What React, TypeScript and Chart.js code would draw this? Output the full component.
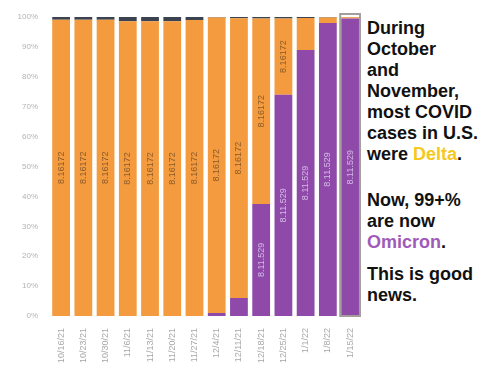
import React, { useEffect, useRef } from 'react';
import { Chart, registerables } from 'chart.js';

Chart.register(...registerables);

const weeks = ['10/16/21', '10/23/21', '10/30/21', '11/6/21', '11/13/21', '11/20/21', '11/27/21', '12/4/21', '12/11/21', '12/18/21', '12/25/21', '1/1/22', '1/8/22', '1/15/22'];
const omicronShare = [0, 0, 0, 0, 0, 0, 0, 1, 6, 37.5, 74, 89, 98, 99.5];
const deltaShare = [99.1, 99.1, 99.1, 98.6, 98.6, 98.6, 99, 98.8, 93.6, 62, 25.5, 10.7, 1.8, 0.4];
const otherShare = [0.9, 0.9, 0.9, 1.4, 1.4, 1.4, 1, 0.2, 0.4, 0.5, 0.5, 0.3, 0.2, 0.1];
const yTicks = [0, 10, 20, 30, 40, 50, 60, 70, 80, 90, 100];
const deltaName = '8.16172';
const omicronName = '8.11.529';

const FONT = '"Liberation Sans", Arial, sans-serif';

const segLabels = {
  id: 'segLabels',
  afterDatasetsDraw(chart: any) {
    const ctx = chart.ctx;
    chart.data.datasets.forEach((ds: any, di: number) => {
      if (!ds.segLabel) return;
      const meta = chart.getDatasetMeta(di);
      meta.data.forEach((el: any, i: number) => {
        const v = ds.data[i];
        if (v < 15) return;
        const p = el.getProps(['x', 'y', 'base'], true);
        ctx.save();
        ctx.translate(p.x, (p.y + p.base) / 2);
        ctx.rotate(-Math.PI / 2);
        ctx.font = `9px ${FONT}`;
        ctx.fillStyle = ds.segLabelColor;
        ctx.textAlign = 'center';
        ctx.textBaseline = 'middle';
        ctx.fillText(ds.segLabel, 0, 0);
        ctx.restore();
      });
    });
  },
};

const highlight = {
  id: 'highlight',
  afterDatasetsDraw(chart: any) {
    const ctx = chart.ctx;
    const last = weeks.length - 1;
    const bottomEl = chart.getDatasetMeta(0).data[last];
    const topEl = chart.getDatasetMeta(chart.data.datasets.length - 1).data[last];
    if (!bottomEl || !topEl) return;
    const b = bottomEl.getProps(['x', 'base', 'width'], true);
    const t = topEl.getProps(['y'], true);
    ctx.save();
    ctx.strokeStyle = '#a39d9c';
    ctx.lineWidth = 2;
    ctx.strokeRect(b.x - b.width / 2 - 1, t.y - 3, b.width + 2, b.base - t.y + 3);
    ctx.restore();
  },
};

export default function App() {
  const ref = useRef<HTMLCanvasElement>(null);
  useEffect(() => {
    if (!ref.current) return;
    const chart = new Chart(ref.current, {
      type: 'bar',
      data: {
        labels: weeks,
        datasets: [
          {
            label: 'Omicron',
            data: omicronShare,
            backgroundColor: '#8f4aa9',
            segLabel: omicronName,
            segLabelColor: 'rgba(225,205,240,0.85)',
          } as any,
          {
            label: 'Delta',
            data: deltaShare,
            backgroundColor: '#f39b3e',
            segLabel: deltaName,
            segLabelColor: 'rgba(120,80,40,0.85)',
          } as any,
          {
            label: 'Other',
            data: otherShare,
            backgroundColor: '#3c4350',
          } as any,
        ],
      },
      options: {
        animation: false,
        responsive: false,
        maintainAspectRatio: false,
        layout: { padding: { top: 17, right: 3, left: 0, bottom: 0 } },
        datasets: { bar: { categoryPercentage: 1, barPercentage: 0.8 } },
        plugins: { legend: { display: false }, tooltip: { enabled: false } },
        scales: {
          x: {
            stacked: true,
            grid: { display: false },
            border: { display: false },
            ticks: {
              color: '#a8a8a8',
              font: { family: FONT, size: 9 },
              minRotation: 90,
              maxRotation: 90,
              autoSkip: false,
              padding: 4,
            },
            afterFit(scale: any) { scale.height = 50; },
          },
          y: {
            stacked: true,
            min: 0,
            max: 100,
            afterBuildTicks(scale: any) { scale.ticks = yTicks.map((v) => ({ value: v })); },
            grid: { display: false },
            border: { display: false },
            ticks: {
              color: '#b3b3b3',
              font: { family: FONT, size: 8 },
              padding: 4,
              callback: (v: any) => `${v}%`,
            },
            afterFit(scale: any) { scale.width = 50; },
          },
        },
      },
      plugins: [segLabels, highlight],
    } as any);
    return () => chart.destroy();
  }, []);

  const textStyle: React.CSSProperties = {
    position: 'absolute',
    left: 367,
    fontFamily: FONT,
    fontWeight: 'bold',
    fontSize: 18,
    lineHeight: '21px',
    color: '#111',
    whiteSpace: 'nowrap',
  };

  return (
    <div style={{ position: 'fixed', left: 0, top: 0, width: 500, height: 366, background: '#fff', overflow: 'hidden' }}>
      <canvas ref={ref} width={365} height={366} style={{ position: 'absolute', left: 0, top: 0 }} />
      <div style={{ ...textStyle, top: 18 }}>
        During<br />October<br />and<br />November,<br />most COVID<br />cases in U.S.<br />were <span style={{ color: '#f5c81e' }}>Delta</span>.
      </div>
      <div style={{ ...textStyle, top: 190 }}>
        Now, 99+%<br />are now<br /><span style={{ color: '#a05ab8' }}>Omicron</span>.
      </div>
      <div style={{ ...textStyle, top: 264 }}>
        This is good<br />news.
      </div>
    </div>
  );
}
